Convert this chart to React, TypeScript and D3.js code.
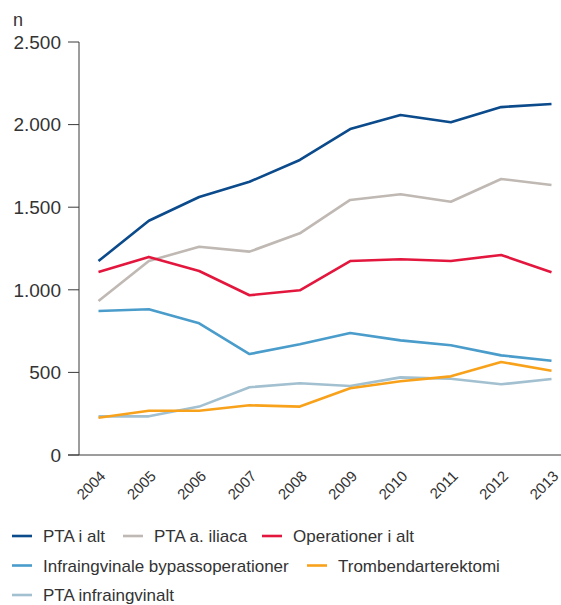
import React from "react";
import * as d3 from "d3";

const years = ["2004","2005","2006","2007","2008","2009","2010","2011","2012","2013"];
const ptaIAlt = [1174,1418,1562,1654,1786,1973,2058,2014,2106,2125];
const ptaIliaca = [932,1174,1261,1231,1342,1544,1578,1533,1671,1634];
const operationerIAlt = [1108,1199,1114,967,997,1174,1185,1174,1211,1106];
const bypass = [872,882,797,611,670,738,694,664,603,571];
const tromb = [226,268,268,301,293,404,446,476,563,510];
const ptaInfra = [234,234,293,410,434,418,470,462,428,460];
const yTicks = [0,500,1000,1500,2000,2500];
const yTickLabels = ["0","500","1.000","1.500","2.000","2.500"];

const series = [
  { name: "PTA i alt", values: ptaIAlt, color: "#0b4a8b" },
  { name: "PTA a. iliaca", values: ptaIliaca, color: "#bfb8b3" },
  { name: "Operationer i alt", values: operationerIAlt, color: "#e3173e" },
  { name: "Infraingvinale bypassoperationer", values: bypass, color: "#4a9ccb" },
  { name: "Trombendarterektomi", values: tromb, color: "#f8a21c" },
  { name: "PTA infraingvinalt", values: ptaInfra, color: "#a2c0d0" },
];

// legend layout (row, x of swatch)
const legendPos = [
  { row: 0, x: 12 },
  { row: 0, x: 123 },
  { row: 0, x: 262 },
  { row: 1, x: 12 },
  { row: 1, x: 307 },
  { row: 2, x: 12 },
];

export default function App() {
  const W = 561, H = 605;
  const axisX = 79;
  const y = d3.scaleLinear().domain([0, 2500]).range([455, 42]);
  const x = d3.scalePoint<string>().domain(years).range([98.5, 551.5]);
  const line = d3.line<number>().x((_, i) => x(years[i])!).y((d) => y(d));
  const axisColor = "#3a3a3a";
  const textColor = "#333333";
  const rowY = [536, 565.5, 595];
  return (
    <svg width={W} height={H} style={{ position: "absolute", left: 0, top: 0, background: "#fff" }}
      fontFamily="'Liberation Sans', Arial, sans-serif">
      <text x={13} y={26} fontSize={18} fill={textColor}>n</text>
      {/* y axis */}
      <line x1={axisX} x2={axisX} y1={y(2500)} y2={y(0)} stroke={axisColor} strokeWidth={1} />
      {yTicks.map((t, i) => (
        <g key={t}>
          <line x1={68} x2={axisX} y1={y(t)} y2={y(t)} stroke={axisColor} strokeWidth={1} />
          <text x={61} y={y(t)} dy="0.36em" textAnchor="end" fontSize={19} fill={textColor}>{yTickLabels[i]}</text>
        </g>
      ))}
      {/* x axis */}
      <line x1={68} x2={W} y1={y(0)} y2={y(0)} stroke={axisColor} strokeWidth={1} />
      {years.map((yr) => (
        <text key={yr} transform={`translate(${x(yr)! + 8},${y(0) + 22}) rotate(-45)`} textAnchor="end"
          fontSize={15} fill={textColor}>{yr}</text>
      ))}
      {/* lines */}
      {[1, 0, 2, 3, 5, 4].map((k) => {
        const s = series[k];
        return <path key={s.name} d={line(s.values)!} fill="none" stroke={s.color} strokeWidth={2.6} strokeLinejoin="round" />;
      })}
      {/* legend */}
      {series.map((s, i) => {
        const p = legendPos[i];
        const cy = rowY[p.row];
        return (
          <g key={s.name}>
            <line x1={p.x} x2={p.x + 20} y1={cy} y2={cy} stroke={s.color} strokeWidth={2.6} />
            <text x={p.x + 31} y={cy} dy="0.36em" fontSize={17} fill={textColor}>{s.name}</text>
          </g>
        );
      })}
    </svg>
  );
}
